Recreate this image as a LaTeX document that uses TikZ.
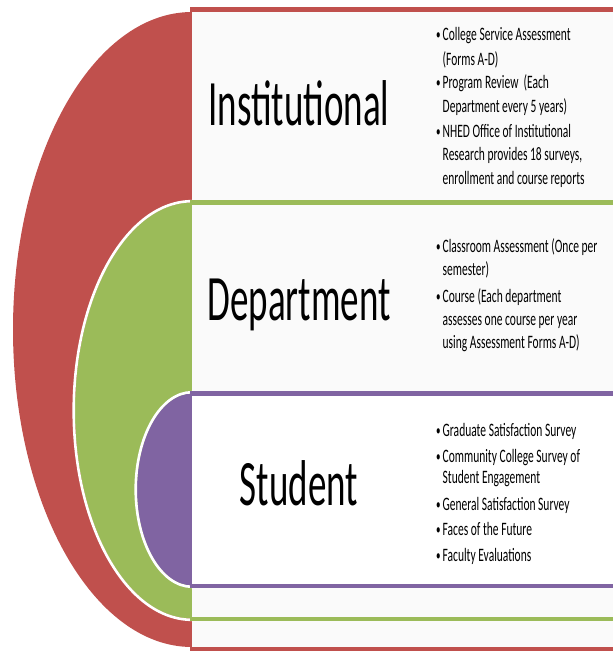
\documentclass[tikz,border=0pt]{standalone}
\usepackage{fontspec}
\setmainfont{Carlito}
\definecolor{redc}{HTML}{C0504D}
\definecolor{greenc}{HTML}{9BBB59}
\definecolor{purplec}{HTML}{8064A2}
\definecolor{boxfill}{HTML}{FAFAFA}
\newcommand\bigword[4]{\node[anchor=base, inner sep=0pt] (#1) at (#2,#3) {\scalebox{1}[1.75]{\fontsize{37}{37}\selectfont #4}};}
\newcommand\bitem[4]{\node[anchor=base west, inner sep=0pt] (#1) at (#2,#3) {\scalebox{1}[1.65]{\fontsize{11.5}{12}\selectfont\makebox[6.5pt][l]{\raisebox{0.6pt}{\fontsize{9}{9}\selectfont\textbullet}}#4}};}
\newcommand\bcont[4]{\node[anchor=base west, inner sep=0pt] (#1) at (#2,#3) {\scalebox{1}[1.65]{\fontsize{11.5}{12}\selectfont\hspace*{6.5pt}#4}};}
\begin{document}
\begin{tikzpicture}[x=1pt,y=-1pt,
  band/.style={line width=4.5pt},
  halo/.style={draw=white, line width=2.6pt}]
\useasboundingbox (0,0) rectangle (613,651);
% red level
\begin{scope}
  \clip (0,0) rectangle (192,651);
  \fill[redc] (192,329.5) ellipse [x radius=179, y radius=317.5];
\end{scope}
\fill[boxfill] (192,9.5) rectangle (615,649.5);
\draw[band, redc] (190,9.5) -- (615,9.5);
\draw[band, redc] (190,649.5) -- (615,649.5);
% green level
\begin{scope}
  \clip (0,0) rectangle (192,651);
  \fill[greenc] (192,410.5) ellipse [x radius=117, y radius=208];
  \draw[halo] (192,410.5) ellipse [x radius=118.3, y radius=209.3];
\end{scope}
\fill[boxfill] (192,202.3) rectangle (615,619);
\draw[band, greenc] (190,202.3) -- (615,202.3);
\draw[band, greenc] (190,619) -- (615,619);
% purple level
\begin{scope}
  \clip (0,0) rectangle (192,651);
  \fill[purplec] (192,489.5) ellipse [x radius=55, y radius=96];
  \draw[halo] (192,489.5) ellipse [x radius=56.3, y radius=97.3];
\end{scope}
\fill[white] (192,393.3) rectangle (615,586);
\draw[band, purplec] (190,393.3) -- (615,393.3);
\draw[band, purplec] (190,586) -- (615,586);
% titles
\bigword{inst}{299}{125}{Institutional}
\bigword{dept}{299}{320}{Department}
\bigword{stud}{299}{505}{Student}
% institutional bullets
\bitem{i1}{436}{40.5}{College Service Assessment}
\bcont{i2}{436}{65}{(Forms A-D)}
\bitem{i3}{436}{88.5}{Program Review\ \ (Each}
\bcont{i4}{436}{112}{Department every 5 years)}
\bitem{i5}{436}{137}{NHED Office of Institutional}
\bcont{i6}{436}{160}{Research provides 18 surveys,}
\bcont{i7}{436}{184}{enrollment and course reports}
% department bullets
\bitem{d1}{436}{252}{Classroom Assessment (Once per}
\bcont{d2}{436}{275}{semester)}
\bitem{d3}{436}{302}{Course (Each department}
\bcont{d4}{436}{325}{assesses one course per year}
\bcont{d5}{436}{348}{using Assessment Forms A-D)}
% student bullets
\bitem{s1}{436}{436}{Graduate Satisfaction Survey}
\bitem{s2}{436}{462}{Community College Survey of}
\bcont{s3}{436}{483.5}{Student Engagement}
\bitem{s4}{436}{510}{General Satisfaction Survey}
\bitem{s5}{436}{535}{Faces of the Future}
\bitem{s6}{436}{561}{Faculty Evaluations}
\end{tikzpicture}
\end{document}
